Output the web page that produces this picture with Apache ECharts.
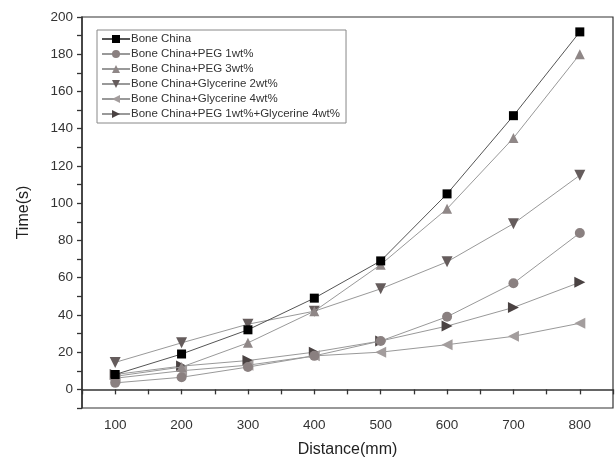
<!DOCTYPE html>
<html>
<head>
<meta charset="utf-8">
<script src="https://cdn.jsdelivr.net/npm/echarts@6/dist/echarts.min.js"></script>
<style>
  html, body { margin: 0; padding: 0; background: #fff; }
  #chart { width: 616px; height: 469px; }
</style>
</head>
<body>
<div id="chart"></div>
<script>
// Distance (mm) on x, time (s) on y
const distances = [100, 200, 300, 400, 500, 600, 700, 800];

const boneChina      = [8, 19, 32, 49, 69, 105, 147, 192];
const peg1           = [3.5, 6.5, 12, 18, 26, 39, 57, 84];
const peg3           = [7, 12, 25, 42, 67, 97, 135, 180];
const glycerine2     = [14.5, 25, 35, 42, 54, 68.5, 89, 115];
const glycerine4     = [6, 10, 13, 18, 20, 24, 28.5, 35.5];
const peg1Glycerine4 = [8, 12.5, 15.5, 20, 26, 34, 44, 57.5];

const seriesNames = [
  'Bone China',
  'Bone China+PEG 1wt%',
  'Bone China+PEG 3wt%',
  'Bone China+Glycerine 2wt%',
  'Bone China+Glycerine 4wt%',
  'Bone China+PEG 1wt%+Glycerine 4wt%',
];

const FONT = "'Liberation Sans', Arial, sans-serif";

// marker shapes and colours, one per series
const looks = [
  { data: boneChina,      symbol: 'rect',                       color: '#000000', size: 9 },
  { data: peg1,           symbol: 'circle',                     color: '#8a8080', size: 10 },
  { data: peg3,           symbol: 'triangle',                   color: '#8f8787', size: 10 },
  { data: glycerine2,     symbol: 'path://M0,0 L10,0 L5,9 Z',   color: '#655c5c', size: 11 },
  { data: glycerine4,     symbol: 'path://M9,0 L9,10 L0,5 Z',   color: '#a39d9d', size: 11 },
  { data: peg1Glycerine4, symbol: 'path://M0,0 L0,10 L9,5 Z',   color: '#4a4242', size: 11 },
];

const chart = echarts.init(document.getElementById('chart'));

chart.setOption({
  animation: false,
  backgroundColor: '#fff',
  textStyle: { fontFamily: FONT },
  grid: {
    left: 82, top: 17, right: 1, bottom: 61,
    show: true, borderColor: '#333', borderWidth: 1.2,
  },
  legend: {
    orient: 'vertical',
    left: 97, top: 30,
    data: seriesNames,
    borderColor: '#888', borderWidth: 1,
    padding: [3, 6, 3, 4],
    itemGap: 3,
    itemWidth: 28, itemHeight: 10,
    textStyle: { fontSize: 11.5, color: '#333', fontFamily: FONT, padding: [0, 0, 0, -4] },
  },
  xAxis: {
    type: 'value',
    min: 50, max: 850, interval: 50,
    name: 'Distance(mm)',
    nameLocation: 'middle', nameGap: 34,
    nameTextStyle: { fontSize: 16, color: '#222', fontFamily: FONT },
    axisLine: { lineStyle: { color: '#333', width: 1.5 } },
    axisTick: { inside: false, length: 5, lineStyle: { color: '#333', width: 1.3 } },
    axisLabel: {
      color: '#333', fontSize: 13.5, fontFamily: FONT, margin: 10,
      formatter: v => (v % 100 === 0 ? String(v) : ''),
    },
    splitLine: { show: false },
  },
  yAxis: {
    type: 'value',
    min: -10, max: 200, interval: 10,
    name: 'Time(s)',
    nameLocation: 'middle', nameGap: 50,
    nameTextStyle: { fontSize: 16, color: '#222', fontFamily: FONT },
    axisLine: { show: true, lineStyle: { color: '#333', width: 1.5 } },
    axisTick: { show: true, inside: false, length: 5, lineStyle: { color: '#333', width: 1.3 } },
    axisLabel: {
      color: '#333', fontSize: 13.5, fontFamily: FONT, margin: 9,
      formatter: v => (v >= 0 && v % 20 === 0 ? String(v) : ''),
    },
    splitLine: { show: false },
  },
  series: looks.map((l, i) => ({
    name: seriesNames[i],
    type: 'line',
    data: distances.map((d, j) => [d, l.data[j]]),
    symbol: l.symbol,
    symbolSize: l.size,
    showAllSymbol: true,
    itemStyle: { color: l.color },
    lineStyle: { color: i === 0 ? '#555' : '#999', width: 1 },
    z: 10 - i,
  })),
});
</script>
</body>
</html>
